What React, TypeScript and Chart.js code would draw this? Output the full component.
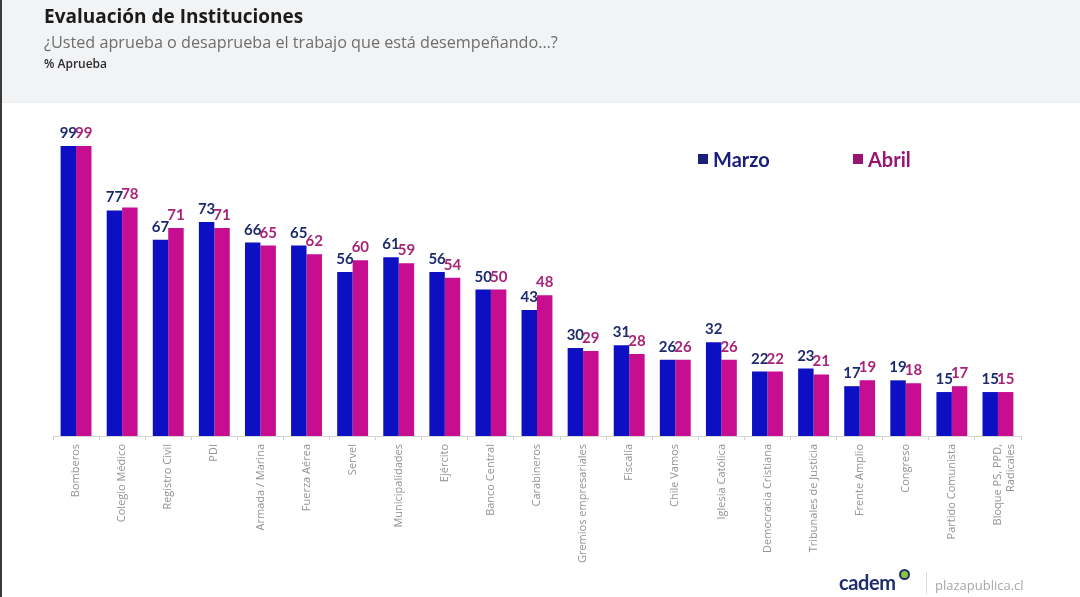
import React, { useEffect, useRef } from "react";
import { Chart, registerables } from "chart.js";

Chart.register(...registerables);

const categories: (string | string[])[] = [
  "Bomberos",
  "Colegio Médico",
  "Registro Civil",
  "PDI",
  "Armada / Marina",
  "Fuerza Aérea",
  "Servel",
  "Municipalidades",
  "Ejército",
  "Banco Central",
  "Carabineros",
  "Gremios empresariales",
  "Fiscalía",
  "Chile Vamos",
  "Iglesia Católica",
  "Democracia Cristiana",
  "Tribunales de Justicia",
  "Frente Amplio",
  "Congreso",
  "Partido Comunista",
  ["Bloque PS, PPD,", "Radicales"],
];

const marzo = [99, 77, 67, 73, 66, 65, 56, 61, 56, 50, 43, 30, 31, 26, 32, 22, 23, 17, 19, 15, 15];
const abril = [99, 78, 71, 71, 65, 62, 60, 59, 54, 50, 48, 29, 28, 26, 26, 22, 21, 19, 18, 17, 15];

const seriesNames = ["Marzo", "Abril"];
const barColors = ["#0d0fc2", "#c70d90"];
const labelColors = ["#1d2b6e", "#a82479"];
const legendColors = ["#1a1f7c", "#9a1472"];

const valueLabels = {
  id: "valueLabels",
  afterDatasetsDraw(chart: any) {
    const ctx = chart.ctx;
    ctx.save();
    ctx.font = "bold 15px Lato";
    ctx.textAlign = "center";
    ctx.textBaseline = "alphabetic";
    chart.data.datasets.forEach((ds: any, di: number) => {
      const meta = chart.getDatasetMeta(di);
      ctx.fillStyle = labelColors[di];
      meta.data.forEach((bar: any, i: number) => {
        ctx.fillText(String(ds.data[i]), bar.x, bar.y - 8);
      });
    });
    ctx.restore();
  },
};

export default function App() {
  const canvasRef = useRef<HTMLCanvasElement>(null);

  useEffect(() => {
    if (!canvasRef.current) return;
    const chart = new Chart(canvasRef.current, {
      type: "bar",
      data: {
        labels: categories,
        datasets: [
          {
            label: seriesNames[0],
            data: marzo,
            backgroundColor: barColors[0],
            categoryPercentage: 0.67,
            barPercentage: 1.0,
          },
          {
            label: seriesNames[1],
            data: abril,
            backgroundColor: barColors[1],
            categoryPercentage: 0.67,
            barPercentage: 1.0,
          },
        ],
      },
      options: {
        responsive: false,
        animation: false,
        devicePixelRatio: 1,
        layout: { padding: { left: 53, right: 59, top: 143, bottom: 0 } },
        plugins: {
          legend: { display: false },
          tooltip: { enabled: false },
          title: { display: false },
        },
        scales: {
          y: {
            display: false,
            min: 0,
            max: 100,
          },
          x: {
            offset: true,
            border: { display: true, color: "#d6d6d6", width: 1 },
            grid: {
              display: true,
              offset: true,
              drawOnChartArea: false,
              drawTicks: true,
              tickLength: 4,
              color: "#cfcfcf",
            },
            ticks: {
              minRotation: 90,
              maxRotation: 90,
              autoSkip: false,
              padding: 4,
              color: "#939393",
              font: { family: "Open Sans", size: 11 },
            },
            afterFit(scale: any) {
              scale.height = 161;
            },
          },
        },
      },
      plugins: [valueLabels],
    });
    return () => chart.destroy();
  }, []);

  return (
    <div
      style={{
        position: "fixed",
        left: 0,
        top: 0,
        width: 1080,
        height: 597,
        background: "#ffffff",
        overflow: "hidden",
        fontFamily: "'Open Sans', sans-serif",
      }}
    >
      <div
        style={{
          position: "absolute",
          left: 0,
          top: 0,
          width: 1080,
          height: 102,
          background: "#f2f3f5",
          borderBottom: "1px solid #eceef0",
        }}
      />
      <canvas
        ref={canvasRef}
        width={1080}
        height={597}
        style={{ position: "absolute", left: 0, top: 0, width: 1080, height: 597 }}
      />
      <div
        style={{
          position: "absolute",
          left: 44,
          top: 3,
          fontSize: 19,
          fontWeight: 700,
          color: "#1b1b1b",
          whiteSpace: "nowrap",
        }}
      >
        Evaluación de Instituciones
      </div>
      <div
        style={{
          position: "absolute",
          left: 44,
          top: 31,
          fontSize: 16.2,
          color: "#6e6e6e",
          whiteSpace: "nowrap",
        }}
      >
        ¿Usted aprueba o desaprueba el trabajo que está desempeñando…?
      </div>
      <div
        style={{
          position: "absolute",
          left: 44,
          top: 55,
          fontSize: 12,
          fontWeight: 600,
          color: "#2c2c2c",
          whiteSpace: "nowrap",
        }}
      >
        % Aprueba
      </div>

      {seriesNames.map((name, i) => (
        <div
          key={name}
          style={{
            position: "absolute",
            left: i === 0 ? 698 : 853,
            top: 147,
            display: "flex",
            alignItems: "center",
            fontFamily: "Lato, sans-serif",
            fontWeight: 700,
            fontSize: 20,
            color: legendColors[i],
            whiteSpace: "nowrap",
          }}
        >
          <span
            style={{
              display: "inline-block",
              width: 10,
              height: 10,
              background: legendColors[i],
              marginRight: 5,
            }}
          />
          {name}
        </div>
      ))}

      <div
        style={{
          position: "absolute",
          left: 839,
          top: 570,
          fontFamily: "Lato, sans-serif",
          fontWeight: 700,
          fontSize: 20,
          color: "#1f2d6c",
          whiteSpace: "nowrap",
          letterSpacing: -0.4,
        }}
      >
        cadem
      </div>
      <div
        style={{
          position: "absolute",
          left: 899,
          top: 569,
          width: 7,
          height: 7,
          borderRadius: "50%",
          border: "2px solid #1f2d6c",
          background: "#8cc63f",
        }}
      />
      <div
        style={{
          position: "absolute",
          left: 926,
          top: 572,
          width: 1,
          height: 22,
          background: "#dcdcdc",
        }}
      />
      <div
        style={{
          position: "absolute",
          left: 935,
          top: 576,
          fontSize: 13,
          color: "#a8a8a8",
          whiteSpace: "nowrap",
        }}
      >
        plazapublica.cl
      </div>
      <div
        style={{
          position: "absolute",
          left: 0,
          top: 0,
          width: 2,
          height: 597,
          background: "#3a3a3a",
        }}
      />
    </div>
  );
}
